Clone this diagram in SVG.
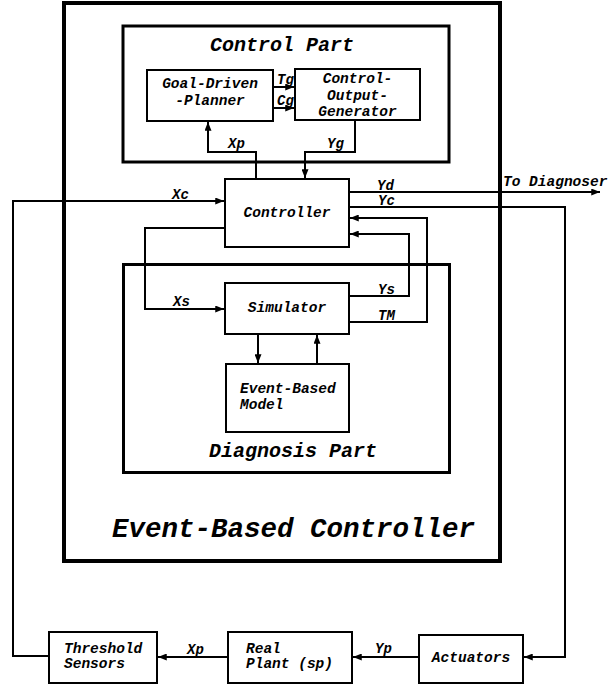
<svg xmlns="http://www.w3.org/2000/svg" width="613" height="685" viewBox="0 0 613 685">
<defs>
<style>
.box{fill:#fff;stroke:#000;stroke-width:2}
.part{fill:none;stroke:#000;stroke-width:3}
.outer{fill:none;stroke:#000;stroke-width:4}
.c{fill:none;stroke:#000;stroke-width:2}
.a{marker-end:url(#ah)}
text{font-family:"Liberation Mono","DejaVu Sans Mono",monospace;font-weight:bold;font-style:italic;fill:#000}
.t{font-size:14.5px}
.m{text-anchor:middle}
.lbl{font-size:14px}
.title{font-size:20px}
.big{font-size:27.5px}
</style>
<marker id="ah" viewBox="0 0 10 8" refX="10" refY="4" markerWidth="9" markerHeight="7" markerUnits="userSpaceOnUse" orient="auto">
<path d="M0,0 L10,4 L0,8 z" fill="#000"/>
</marker>
</defs>
<rect width="613" height="685" fill="#fff"/>

<g id="event-based-controller">
<rect class="outer" x="64" y="3" width="436" height="558"/>
<text class="big" x="112" y="537" textLength="363" lengthAdjust="spacingAndGlyphs">Event-Based Controller</text>
</g>

<g id="control-part">
<rect class="part" x="123" y="26" width="326" height="136"/>
<text class="title m" x="282" y="51">Control Part</text>
</g>

<g id="diagnosis-part">
<rect class="part" x="123.5" y="264.5" width="326" height="208"/>
<text class="title m" x="293" y="457">Diagnosis Part</text>
</g>

<g id="connectors">
<path class="c a" d="M256,179 V152 H208 V122"/>
<path class="c a" d="M355,120 V152 H305 V178"/>
<path class="c a" d="M273,87 H294"/>
<path class="c a" d="M273,108 H294"/>
<path class="c a" d="M49,656 H13 V201 H224"/>
<path class="c a" d="M349,192 H600"/>
<path class="c a" d="M349,207 H565 V657 H524"/>
<path class="c a" d="M225,228 H145 V309 H224"/>
<path class="c a" d="M349,296 H409 V234 H350"/>
<path class="c a" d="M349,322 H427 V218 H350"/>
<path class="c a" d="M258,334 V363"/>
<path class="c a" d="M317,364 V335"/>
<path class="c a" d="M419,657 H353"/>
<path class="c a" d="M228,657 H158"/>
<text class="lbl" x="277" y="84">Tg</text>
<text class="lbl" x="277" y="105">Cg</text>
<text class="lbl" x="228" y="148">Xp</text>
<text class="lbl" x="327" y="148">Yg</text>
<text class="lbl" x="172" y="199">Xc</text>
<text class="lbl" x="173" y="306">Xs</text>
<text class="lbl" x="377" y="190">Yd</text>
<text class="lbl" x="378" y="205">Yc</text>
<text class="lbl" x="378" y="294">Ys</text>
<text class="lbl" x="378" y="320">TM</text>
<text class="t" x="503" y="186">To Diagnoser</text>
<text class="lbl" x="187" y="654">Xp</text>
<text class="lbl" x="375" y="653">Yp</text>
</g>

<g id="goal-driven-planner">
<rect class="box" x="147" y="70" width="126" height="51"/>
<text class="t m" x="210" y="88">Goal-Driven</text>
<text class="t m" x="210" y="105">-Planner</text>
</g>

<g id="control-output-generator">
<rect class="box" x="295" y="69" width="125" height="51"/>
<text class="t m" x="357.5" y="83">Control-</text>
<text class="t m" x="357.5" y="100">Output-</text>
<text class="t m" x="357.5" y="116">Generator</text>
</g>

<g id="controller">
<rect class="box" x="225" y="179" width="124" height="68"/>
<text class="t m" x="287" y="217">Controller</text>
</g>

<g id="simulator">
<rect class="box" x="225" y="283" width="124" height="51"/>
<text class="t m" x="287" y="312">Simulator</text>
</g>

<g id="event-based-model">
<rect class="box" x="226" y="364" width="123" height="68"/>
<text class="t" x="240" y="393">Event-Based</text>
<text class="t" x="240" y="409">Model</text>
</g>

<g id="threshold-sensors">
<rect class="box" x="49" y="632" width="108" height="51"/>
<text class="t" x="64" y="653">Threshold</text>
<text class="t" x="64" y="668">Sensors</text>
</g>

<g id="real-plant">
<rect class="box" x="228" y="632" width="124" height="51"/>
<text class="t" x="246" y="653">Real</text>
<text class="t" x="246" y="668">Plant (sp)</text>
</g>

<g id="actuators">
<rect class="box" x="419" y="635" width="104" height="48"/>
<text class="t m" x="471" y="662">Actuators</text>
</g>
</svg>
